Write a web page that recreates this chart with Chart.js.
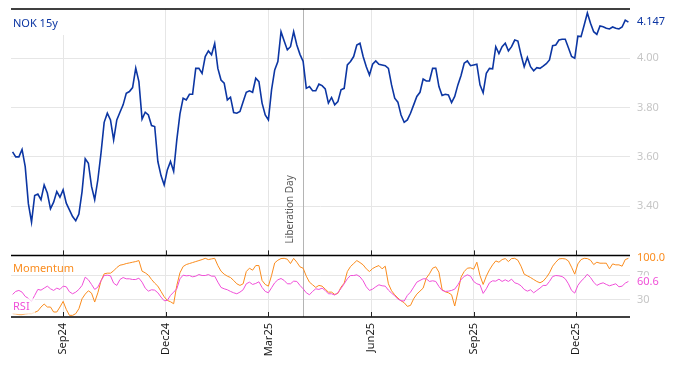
<!DOCTYPE html>
<html lang="en">
<head>
<meta charset="UTF-8">
<title>NOK 15y</title>
<script src="https://cdn.jsdelivr.net/npm/chart.js"></script>
<style>
  html, body { margin: 0; padding: 0; background: #fff; }
  #wrap { width: 674px; height: 366px; }
</style>
</head>
<body>
<div id="wrap"><canvas id="chart"></canvas></div>
<script>
// x = business days counted from 2 Sep 2024, one reading every 2 business days
const firstDay = -32;
const dayStep = 2;
const tickDays = [0, 65, 130, 195, 260, 325];
const tickLabels = ['Sep24', 'Dec24', 'Mar25', 'Jun25', 'Sep25', 'Dec25'];
const libDay = 152; // 2 Apr 2025

const nok = [
  3.62, 3.60, 3.60, 3.63, 3.56, 3.41, 3.335, 3.443, 3.449, 3.426,
  3.486, 3.453, 3.389, 3.416, 3.459, 3.436, 3.466, 3.412, 3.385, 3.358,
  3.341, 3.368, 3.459, 3.592, 3.574, 3.480, 3.426, 3.507, 3.615, 3.740,
  3.777, 3.750, 3.669, 3.750, 3.781, 3.811, 3.858, 3.865, 3.881, 3.960,
  3.905, 3.753, 3.781, 3.770, 3.727, 3.723, 3.581, 3.524, 3.486, 3.547,
  3.581, 3.541, 3.669, 3.774, 3.838, 3.831, 3.854, 3.854, 3.959, 3.959,
  3.939, 4.007, 4.030, 4.014, 4.060, 3.959,
  3.912, 3.899, 3.831, 3.842, 3.780, 3.777, 3.784, 3.824, 3.862, 3.868,
  3.862, 3.919, 3.905, 3.818, 3.770, 3.750, 3.872, 3.953, 3.987, 4.108,
  4.070, 4.034, 4.047, 4.108, 4.054, 4.016, 3.987, 3.878, 3.885, 3.868,
  3.868, 3.895, 3.889, 3.876, 3.818, 3.841, 3.811, 3.824, 3.872, 3.878,
  3.973, 3.987, 4.007, 4.054, 4.061, 4.007, 3.966, 3.932, 3.976, 3.989,
  3.976, 3.973, 3.970, 3.959, 3.892, 3.838, 3.822, 3.770, 3.740, 3.750,
  3.777, 3.811, 3.845, 3.862, 3.916,
  3.908, 3.908, 3.959, 3.959, 3.885, 3.849, 3.854, 3.851, 3.820, 3.845,
  3.892, 3.930, 3.980, 3.989, 3.970, 3.973, 3.976, 3.892, 3.860, 3.939,
  3.959, 3.957, 4.047, 4.019, 4.047, 4.061, 4.030, 4.047, 4.074, 4.070,
  4.014, 3.966, 4.003, 3.966, 3.949, 3.962, 3.959, 3.968, 3.978, 3.993,
  4.051, 4.054, 4.074, 4.077, 4.077, 4.043, 4.007, 4.000, 4.090, 4.088,
  4.135, 4.184, 4.142, 4.108, 4.097, 4.131, 4.128, 4.122, 4.119, 4.127,
  4.122, 4.119, 4.127, 4.155, 4.147
];

const momentum = [
  5.7, 5.1, 4.0, 4.0, 5.1, 5.7, 5.7, 7.9, 10.2, 17.0,
  22.1, 17.0, 17.0, 8.5, 8.5, 17.0, 26.6, 13.0, 2.8, 2.8,
  5.7, 14.1, 31.1, 39.0, 44.7, 40.7, 25.5, 41.3, 61.7, 73.6,
  74.7, 74.7, 78.7, 84.3, 88.3, 89.4, 91.1, 92.2, 93.4, 94.5,
  96.2, 78.1, 75.3, 71.3, 64.0, 57.7, 52.6, 43.6, 34.5, 28.3,
  26.0, 22.6, 53.8, 75.3, 86.0, 89.4, 91.1, 92.8, 94.5, 96.2,
  97.9, 100, 97.9, 99.0, 100, 87.7,
  78.1, 73.0, 69.6, 67.3, 62.3, 56.6, 53.8, 56.6, 77.5, 83.2,
  79.8, 87.7, 87.7, 62.3, 55.5, 52.6, 70.7, 92.2, 96.8, 99.6,
  100, 98.5, 91.1, 100, 93.4, 85.5, 83.2, 69.6, 59.4, 54.9,
  50.4, 53.8, 52.6, 47.5, 42.4, 42.4, 38.5, 40.2, 50.9, 57.7,
  77.5, 86.0, 91.1, 96.2, 92.8, 88.9, 82.1, 77.5, 82.6, 85.5,
  87.7, 82.1, 86.6, 56.6, 44.7, 37.9, 32.3, 27.7, 24.3, 18.1,
  19.8, 31.1, 39.0, 44.1, 49.2,
  66.2, 73.6, 83.2, 85.5, 76.4, 47.0, 43.0, 41.3, 37.9, 18.7,
  42.4, 67.9, 77.5, 83.2, 83.8, 81.5, 93.4, 70.7, 55.5, 69.6,
  80.4, 88.9, 95.6, 93.4, 97.9, 99.6, 94.5, 99.6, 100, 96.8,
  86.6, 73.0, 70.2, 67.3, 63.9, 60.6, 58.3, 61.1, 67.3, 75.3,
  86.6, 93.4, 99.0, 99.6, 99.0, 95.6, 84.9, 73.0, 90.5, 97.9,
  100, 99.6, 96.8, 89.4, 93.4, 91.7, 91.7, 91.7, 82.1, 90.5,
  88.9, 88.9, 86.6, 97.9, 100
];

const rsi = [
  38.5, 43.6, 45.3, 42.4, 35.1, 31.7, 26.6, 36.8, 47.0, 45.8,
  49.2, 52.6, 48.1, 45.3, 49.2, 47.0, 52.6, 51.5, 43.0, 39.6,
  42.4, 47.0, 53.8, 67.9, 63.4, 55.5, 47.0, 50.9, 61.7, 70.7,
  71.3, 70.2, 57.7, 53.8, 63.9, 67.3, 65.1, 65.1, 63.9, 63.9,
  66.2, 59.4, 49.2, 44.1, 46.4, 45.8, 41.3, 34.0, 27.7, 28.3,
  36.8, 42.4, 48.1, 65.1, 71.3, 70.2, 70.7, 68.5, 69.6, 72.4,
  70.7, 70.7, 72.4, 69.6, 69.6, 59.4,
  50.4, 48.1, 46.4, 43.6, 41.3, 39.6, 42.4, 46.4, 56.6, 59.4,
  55.5, 57.2, 60.0, 50.4, 43.6, 41.3, 49.8, 58.3, 63.4, 65.6,
  62.3, 56.6, 56.6, 61.1, 60.6, 53.8, 48.1, 41.3, 37.9, 43.6,
  48.1, 47.0, 49.2, 45.3, 39.6, 39.6, 37.4, 41.3, 48.7, 56.6,
  65.1, 70.7, 70.7, 71.9, 68.5, 61.7, 51.5, 45.3, 47.5, 51.5,
  54.9, 53.2, 52.6, 45.8, 40.7, 36.2, 30.6, 27.7, 27.2, 36.8,
  42.4, 50.9, 59.4, 62.3, 65.1,
  65.1, 60.6, 61.7, 60.6, 52.1, 45.3, 43.6, 44.1, 45.3, 47.5,
  54.9, 63.9, 69.0, 71.9, 69.6, 60.6, 56.6, 54.9, 40.2, 48.1,
  58.3, 61.7, 61.1, 64.5, 60.6, 63.4, 60.6, 64.5, 58.3, 56.6,
  53.2, 47.0, 44.1, 46.4, 41.3, 45.3, 49.2, 53.8, 53.8, 60.6,
  69.0, 70.7, 70.2, 69.0, 65.1, 56.6, 45.3, 40.7, 53.8, 61.1,
  66.2, 73.0, 67.3, 59.4, 53.8, 56.6, 58.3, 55.5, 53.2, 54.9,
  56.6, 51.5, 52.6, 57.7, 60.6
];

const days = nok.map((_, i) => firstDay + i * dayStep);
const pts = arr => arr.map((v, i) => ({ x: days[i], y: v }));

const blue = '#0c36a3';
const orange = '#fa8c1e';
const pink = '#f04fd8';
const faint = '#c6c6c6';

Chart.defaults.font.family = '"Noto Sans", sans-serif';
Chart.defaults.font.size = 11;

const noPad = s => { s.paddingTop = 0; s.paddingBottom = 0; };

const overlay = {
  id: 'overlay',
  beforeDatasetsDraw(chart) {
    const { ctx, scales: { x, y, y2 } } = chart;
    const lx = Math.round(x.getPixelForValue(libDay)) + 0.5;
    ctx.save();
    ctx.strokeStyle = '#b4b4b4';
    ctx.lineWidth = 1;
    ctx.beginPath();
    ctx.moveTo(lx, y.top);
    ctx.lineTo(lx, y2.bottom);
    ctx.stroke();
    ctx.restore();
  },
  afterDatasetsDraw(chart) {
    const { ctx, chartArea: a, scales: { x, y, y2 } } = chart;
    ctx.save();

    // series names
    ctx.font = '11px "Noto Sans"';
    ctx.textBaseline = 'middle';
    ctx.textAlign = 'left';
    ctx.fillStyle = '#fff';
    ctx.fillRect(a.left, y.top, 54, 26);
    ctx.fillStyle = blue;
    ctx.fillText('NOK 15y', a.left + 2, y.top + 15);
    ctx.fillStyle = orange;
    ctx.fillText('Momentum', a.left + 2, y2.top + 13);
    ctx.fillStyle = 'rgba(255,255,255,0.75)';
    ctx.fillRect(a.left, y2.top + 43, 24, 16);
    ctx.fillStyle = pink;
    ctx.fillText('RSI', a.left + 2, y2.top + 51);

    // panel frames
    ctx.strokeStyle = '#000';
    ctx.lineWidth = 1.5;
    [y.top, y.bottom, y2.bottom].forEach(py => {
      ctx.beginPath();
      ctx.moveTo(a.left, py);
      ctx.lineTo(a.right, py);
      ctx.stroke();
    });

    // tick marks at the bottom of each panel
    ctx.lineWidth = 1;
    ctx.strokeStyle = '#222';
    tickDays.forEach(d => {
      const px = Math.round(x.getPixelForValue(d)) + 0.5;
      [y.bottom, y2.bottom].forEach(py => {
        ctx.beginPath();
        ctx.moveTo(px, py - 5);
        ctx.lineTo(px, py);
        ctx.stroke();
      });
    });

    // event label
    const lx = x.getPixelForValue(libDay);
    ctx.save();
    ctx.translate(lx - 13, y.bottom - 12);
    ctx.rotate(-Math.PI / 2);
    ctx.font = '10px "Noto Sans"';
    ctx.fillStyle = '#555';
    ctx.textAlign = 'left';
    ctx.fillText('Liberation Day', 0, 0);
    ctx.restore();

    // last values on the right
    const rx = a.right + 7;
    ctx.font = '11px "Noto Sans"';
    ctx.fillStyle = blue;
    ctx.fillText(nok[nok.length - 1].toFixed(3), rx, y.getPixelForValue(nok[nok.length - 1]));
    ctx.fillStyle = orange;
    ctx.fillText(momentum[momentum.length - 1].toFixed(1), rx, y2.getPixelForValue(momentum[momentum.length - 1]));
    const ry = y2.getPixelForValue(rsi[rsi.length - 1]);
    ctx.fillStyle = '#fff';
    ctx.fillRect(rx - 1, ry - 6, 28, 12);
    ctx.fillStyle = pink;
    ctx.fillText(rsi[rsi.length - 1].toFixed(1), rx, ry);

    ctx.restore();
  }
};

new Chart(document.getElementById('chart'), {
  type: 'line',
  data: {
    datasets: [
      { label: 'NOK 15y', data: pts(nok), yAxisID: 'y', borderColor: blue, borderWidth: 1.6 },
      { label: 'RSI', data: pts(rsi), yAxisID: 'y2', borderColor: pink, borderWidth: 1 },
      { label: 'Momentum', data: pts(momentum), yAxisID: 'y2', borderColor: orange, borderWidth: 1 }
    ]
  },
  options: {
    responsive: true,
    maintainAspectRatio: false,
    animation: false,
    elements: { point: { radius: 0 }, line: { tension: 0 } },
    layout: { padding: { left: 11, top: 9, right: 0, bottom: 0 } },
    plugins: { legend: { display: false }, tooltip: { enabled: false } },
    scales: {
      x: {
        type: 'linear',
        min: -33,
        max: 359,
        afterBuildTicks: s => { s.ticks = tickDays.map(v => ({ value: v })); },
        afterFit: s => { s.height = 49; s.paddingLeft = 0; s.paddingRight = 0; },
        ticks: {
          autoSkip: false,
          minRotation: 90,
          maxRotation: 90,
          padding: 6,
          color: '#1a1a1a',
          callback: v => tickLabels[tickDays.indexOf(v)]
        },
        grid: { color: '#e6e6e6', drawTicks: false },
        border: { display: false }
      },
      y: {
        position: 'right',
        stack: 'panels',
        stackWeight: 4,
        min: 3.2,
        max: 4.2,
        afterBuildTicks: s => { s.ticks = [3.4, 3.6, 3.8, 4.0].map(v => ({ value: v })); },
        afterFit: s => { s.width = 44; noPad(s); },
        ticks: { color: faint, padding: 7, callback: v => v.toFixed(2) },
        grid: { color: '#e6e6e6', drawTicks: false },
        border: { display: false }
      },
      y2: {
        position: 'right',
        stack: 'panels',
        stackWeight: 1,
        min: 0,
        max: 105,
        afterBuildTicks: s => { s.ticks = [30, 70].map(v => ({ value: v })); },
        afterFit: s => { s.width = 44; noPad(s); },
        ticks: { color: faint, padding: 7 },
        grid: { color: '#e6e6e6', drawTicks: false },
        border: { display: false }
      }
    }
  },
  plugins: [overlay]
});
</script>
</body>
</html>
